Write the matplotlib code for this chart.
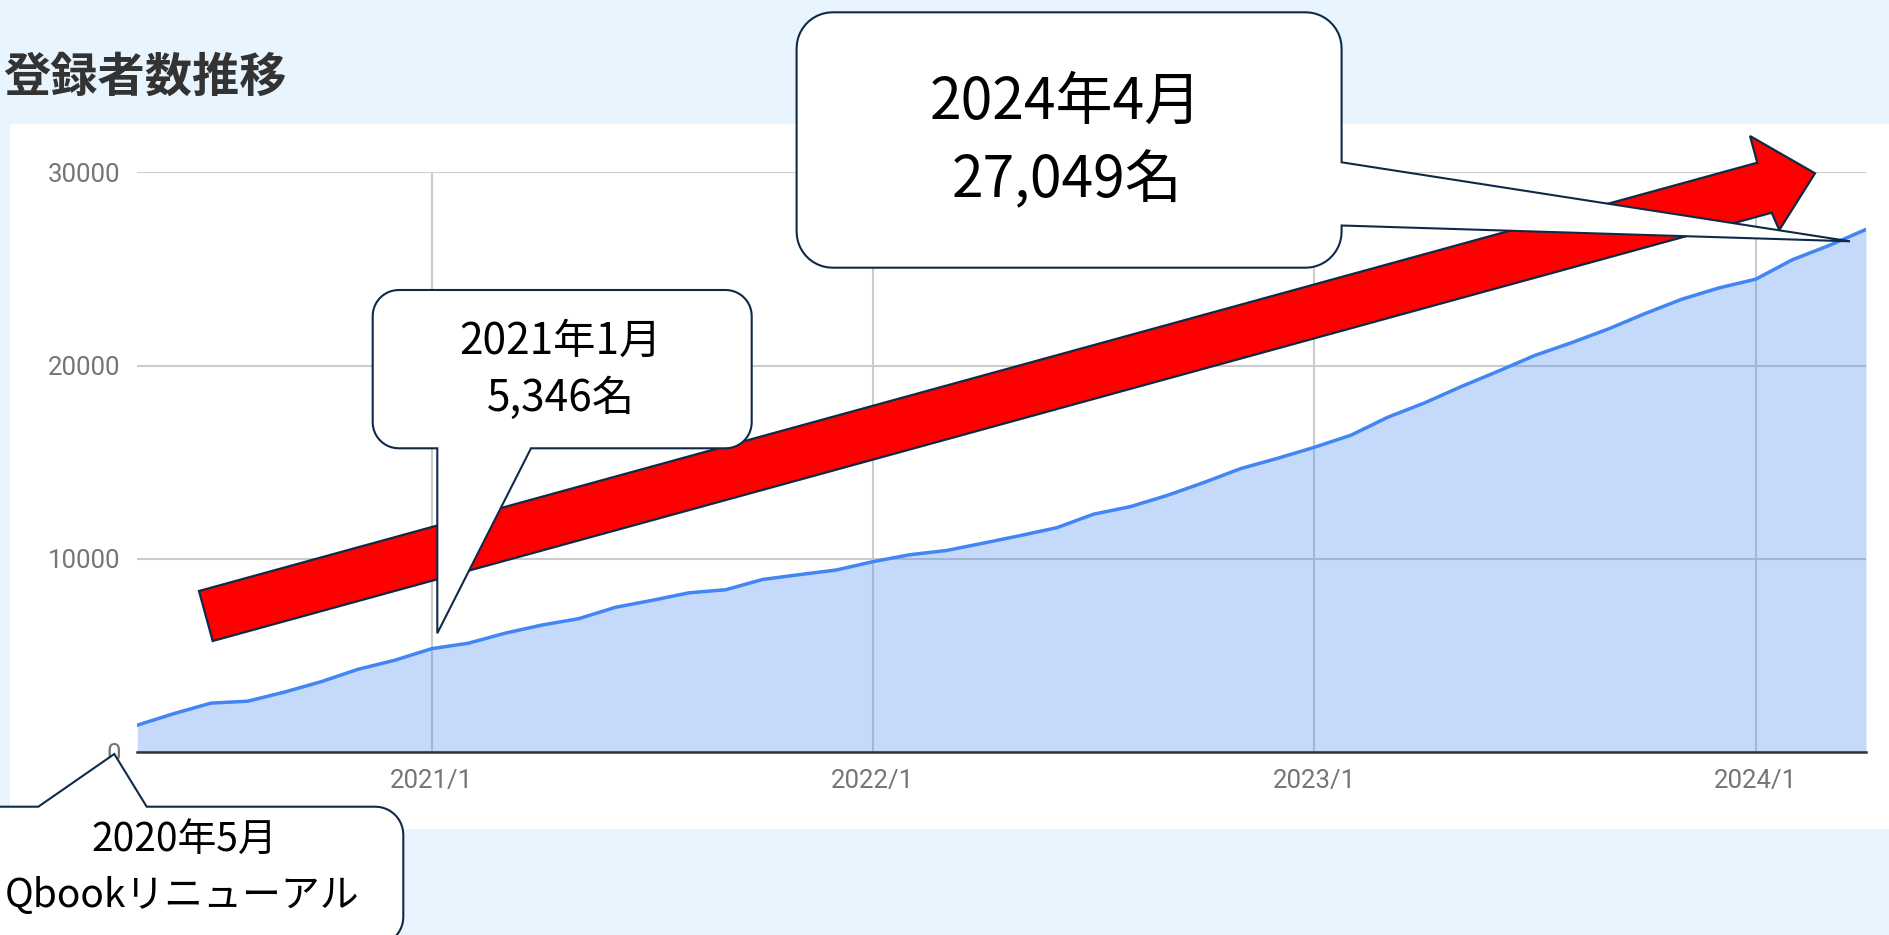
import matplotlib
matplotlib.use("Agg")
import matplotlib.pyplot as plt
import numpy as np
from matplotlib.transforms import Affine2D
from matplotlib.patches import Polygon, Rectangle

# ---------------- data ----------------
months = ["2020/5", "2020/6", "2020/7", "2020/8", "2020/9", "2020/10", "2020/11", "2020/12",
          "2021/1", "2021/2", "2021/3", "2021/4", "2021/5", "2021/6", "2021/7", "2021/8",
          "2021/9", "2021/10", "2021/11", "2021/12", "2022/1", "2022/2", "2022/3", "2022/4",
          "2022/5", "2022/6", "2022/7", "2022/8", "2022/9", "2022/10", "2022/11", "2022/12",
          "2023/1", "2023/2", "2023/3", "2023/4", "2023/5", "2023/6", "2023/7", "2023/8",
          "2023/9", "2023/10", "2023/11", "2023/12", "2024/1", "2024/2", "2024/3", "2024/4"]
registrants = [1390, 1990, 2530, 2630, 3100, 3640, 4280, 4750,
               5346, 5630, 6150, 6570, 6900, 7490, 7850, 8240,
               8400, 8930, 9180, 9420, 9850, 10210, 10430, 10810,
               11200, 11610, 12310, 12700, 13280, 13950, 14670, 15200,
               15770, 16400, 17330, 18070, 18920, 19710, 20530, 21190,
               21900, 22700, 23440, 24020, 24470, 25480, 26220, 27049]
x_tick_labels = ["2021/1", "2022/1", "2023/1", "2024/1"]
y_ticks = [0, 10000, 20000, 30000]
title = "登録者数推移"
callout_texts = [("2024年4月", "27,049名"), ("2021年1月", "5,346名"), ("2020年5月", "Qbookリニューアル")]

# ---------------- figure ----------------
W, H = 1890, 935
BG = "#E9F5FE"
NAVY = "#0F2A47"
fig = plt.figure(figsize=(W / 100, H / 100), dpi=100)
fig.patch.set_facecolor(BG)
PX = Affine2D().scale(1 / W, -1 / H).translate(0, 1) + fig.transFigure

# white panel
fig.add_artist(Rectangle((10, 124), W - 10, 705, transform=PX, facecolor="white",
                         edgecolor="none", zorder=0))

# title
fig.text(3, 78, title, transform=PX, fontsize=34, fontweight="bold", color="#333333",
         family=["Noto Sans CJK JP", "DejaVu Sans"], ha="left", va="center")

# axes
x0p, x1p, y0p, y1p = 137.3, 1866.0, 752.0, 172.4
ax = fig.add_axes([x0p / W, 1 - y0p / H, (x1p - x0p) / W, (y0p - y1p) / H])
ax.set_facecolor("none")
x = np.arange(len(registrants))
ax.set_xlim(0, len(registrants) - 1)
ax.set_ylim(0, 30000)

tick_idx = [months.index(m) for m in x_tick_labels]
ax.set_xticks(tick_idx)
ax.set_xticklabels(x_tick_labels)
ax.set_yticks(y_ticks)
ax.set_yticklabels([str(v) for v in y_ticks])
ax.tick_params(length=0, labelsize=18.5, labelcolor="#757575", pad=12)
for lab in ax.get_xticklabels() + ax.get_yticklabels():
    lab.set_family(["Roboto", "DejaVu Sans"])

ax.grid(True, color="#cccccc", linewidth=1.5, zorder=0)
ax.set_axisbelow(True)
for s in ["top", "right", "left"]:
    ax.spines[s].set_visible(False)
ax.spines["bottom"].set_color("#333333")
ax.spines["bottom"].set_linewidth(1.8)
ax.spines["bottom"].set_zorder(5)

ax.fill_between(x, registrants, 0, color="#4285F4", alpha=0.3, linewidth=0, zorder=2)
ax.plot(x, registrants, color="#4285F4", linewidth=2.5, zorder=3, solid_joinstyle="round")

# ---------------- red arrow ----------------
arrow_pts = [(199, 591), (1757.3, 162.7), (1750, 136), (1815, 173.3),
             (1779.3, 230), (1771.7, 212.7), (212.7, 641)]
fig.add_artist(Polygon(arrow_pts, closed=True, transform=PX, facecolor="#FF0000",
                       edgecolor=NAVY, linewidth=1.6, joinstyle="miter", zorder=10))


# ---------------- callouts ----------------
def arc(cx, cy, r, a0, a1, n=12):
    t = np.radians(np.linspace(a0, a1, n))
    return list(zip(cx + r * np.cos(t), cy + r * np.sin(t)))


def callout(bx0, by0, bx1, by1, r, side, ba, bb, tip):
    pts = []
    # top edge (left -> right)
    pts.append((bx0 + r, by0))
    if side == "top":
        pts += [(ba, by0), tip, (bb, by0)]
    pts.append((bx1 - r, by0))
    pts += arc(bx1 - r, by0 + r, r, -90, 0)
    # right edge (top -> bottom)
    if side == "right":
        pts += [(bx1, ba), tip, (bx1, bb)]
    pts += arc(bx1 - r, by1 - r, r, 0, 90)
    # bottom edge (right -> left)
    if side == "bottom":
        pts += [(bb, by1), tip, (ba, by1)]
    pts += arc(bx0 + r, by1 - r, r, 90, 180)
    pts += arc(bx0 + r, by0 + r, r, 180, 270)
    fig.add_artist(Polygon(pts, closed=True, transform=PX, facecolor="white",
                           edgecolor=NAVY, linewidth=1.5, joinstyle="miter", zorder=20))


cjk = ["Noto Sans CJK JP", "DejaVu Sans"]

# 2024/4
callout(796.6, 12.3, 1341.6, 267.7, 36, "right", 162.3, 225.5, (1850, 241.3))
fig.text(1066, 119, callout_texts[0][0], transform=PX, fontsize=41, family=cjk,
         ha="center", va="baseline", color="black", zorder=21)
fig.text(1067, 197, callout_texts[0][1], transform=PX, fontsize=41, family=cjk,
         ha="center", va="baseline", color="black", zorder=21)

# 2021/1
callout(372.7, 290, 751.7, 448.3, 26, "bottom", 437.3, 531, (437.3, 633.3))
fig.text(560, 354, callout_texts[1][0], transform=PX, fontsize=30.5, family=cjk,
         ha="center", va="baseline", color="black", zorder=21)
fig.text(561, 411, callout_texts[1][1], transform=PX, fontsize=30.5, family=cjk,
         ha="center", va="baseline", color="black", zorder=21)

# 2020/5
callout(-40, 806.7, 403.3, 945, 28, "top", 38.3, 146.7, (114.3, 754))
fig.text(184, 852, callout_texts[2][0], transform=PX, fontsize=28, family=cjk,
         ha="center", va="baseline", color="black", zorder=21)
fig.text(182, 907, callout_texts[2][1], transform=PX, fontsize=28, family=cjk,
         ha="center", va="baseline", color="black", zorder=21)

fig.savefig("out.png", dpi=100, facecolor=BG)
